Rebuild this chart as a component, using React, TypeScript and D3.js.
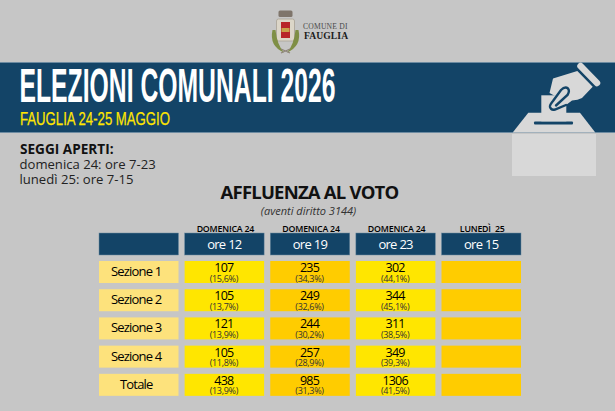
import React from "react";
import * as d3 from "d3";

const sections = ["Sezione 1", "Sezione 2", "Sezione 3", "Sezione 4", "Totale"];
const days = ["DOMENICA 24", "DOMENICA 24", "DOMENICA 24", "LUNEDÌ  25"];
const hours = ["ore 12", "ore 19", "ore 23", "ore 15"];
const ore12 = ["107", "105", "121", "105", "438"];
const ore12Pct = ["(15,6%)", "(13,7%)", "(13,9%)", "(11,8%)", "(13,9%)"];
const ore19 = ["235", "249", "244", "257", "985"];
const ore19Pct = ["(34,3%)", "(32,6%)", "(30,2%)", "(28,9%)", "(31,3%)"];
const ore23 = ["302", "344", "311", "349", "1306"];
const ore23Pct = ["(44,1%)", "(45,1%)", "(38,5%)", "(39,3%)", "(41,5%)"];
const ore15: string[] = ["", "", "", "", ""];
const ore15Pct: string[] = ["", "", "", "", ""];

const values = [ore12, ore19, ore23, ore15];
const pcts = [ore12Pct, ore19Pct, ore23Pct, ore15Pct];
const colFill = ["#ffe600", "#ffcc00", "#ffe600", "#ffcc00"];

const NAVY = "#134467";
const EDGE = "#6d8ba1";
const BG = "#c6c6c6";
const LIGHT = "#d8d8d8";
const sans = "'Open Sans', sans-serif";
const serif = "'Liberation Serif', serif";
const narrow = "'Liberation Sans Narrow', 'Liberation Sans', sans-serif";

const columns = ["label", "0", "1", "2", "3"];
const x = d3.scaleBand<string>().domain(columns).range([99, 521]).paddingInner(0.0715).paddingOuter(0);
const rows = sections;
const y = d3.scaleBand<string>().domain(rows).range([261, 395]).paddingInner(0.25).paddingOuter(0);
const rowH = 22;

export default function App() {
  const bw = x.bandwidth();
  const hTop = 233;
  return (
    <svg width={615} height={411} viewBox="0 0 615 411" style={{ position: "absolute", left: 0, top: 0, display: "block" }}>
      <rect width={615} height={411} fill={BG} />

      {/* crest */}
      <g>
        <rect x={278.5} y={10.5} width={14} height={6.5} rx={1.5} fill="#7f756b" />
        <rect x={276.5} y={19} width={18} height={22} rx={2} fill="#dcd6c8" stroke="#a8a296" strokeWidth={0.8} />
        <rect x={281} y={22} width={9} height={16} fill="#b8262a" />
        <rect x={281.5} y={28} width={8} height={4} fill="#c9a24a" />
        <path d="M272.5 30 Q269 46 284 52.5 Q277 45 275.5 30 Z" fill="#7f8f45" />
        <path d="M298.5 30 Q302 46 287 52.5 Q294 45 295.5 30 Z" fill="#7f8f45" />
        <path d="M281 49 L290 53 M290 49 L281 53" stroke="#8d8378" strokeWidth={1.2} />
        <text x={303} y={29} fontFamily={serif} fontSize={7.6} fill="#4a4a4a" letterSpacing={0.2}>COMUNE DI</text>
        <text x={304} y={38.7} fontFamily={serif} fontSize={9.6} fontWeight={700} fill="#1c1c1c" letterSpacing={0.1}>FAUGLIA</text>
      </g>

      {/* banner */}
      <rect x={0} y={62} width={615} height={70.5} fill={NAVY} />
      <line x1={0} x2={615} y1={62.5} y2={62.5} stroke={EDGE} />
      <line x1={0} x2={615} y1={132.5} y2={132.5} stroke={EDGE} />
      <text x={19.5} y={102} fontFamily={narrow} fontWeight={700} fontSize={48} fill="#ffffff" textLength={316} lengthAdjust="spacingAndGlyphs">ELEZIONI COMUNALI 2026</text>
      <text x={20} y={124.5} fontFamily={narrow} fontSize={18.5} fill="#ffe600" stroke="#ffe600" strokeWidth={0.25} textLength={150} lengthAdjust="spacingAndGlyphs">FAUGLIA 24-25 MAGGIO</text>

      {/* ballot box icon */}
      <g>
        <rect x={512} y={134} width={84} height={42} fill={LIGHT} />
        <path d="M512.7 132.5 L528.3 112.7 L580 112.7 L595.3 132.5 Z" fill={LIGHT} />
        <rect x={534} y={121.5} width={39} height={3} rx={1} fill={NAVY} />
        <rect x={541.3} y={95.3} width={25} height={26} fill={LIGHT} />
        <line x1={580.5} y1={66} x2={597} y2={83} stroke={LIGHT} strokeWidth={6.5} strokeLinecap="round" />
        <path d="M553 78.5 L577.3 71 L592.7 86.7 L582 98 Q578 100 572 100.5 L566 105 L553 110.5 L549.5 106 L555 96 L549.5 93 Z" fill={LIGHT} />
        <path d="M566 105 L555 109.5 Q551 110.5 550 107 Q549.5 105 553 101 L561 90 Q565 86 568 88.5 Q570 91 567.5 95 L556 105.5" fill="none" stroke={NAVY} strokeWidth={2.4} strokeLinecap="round" />
      </g>

      {/* opening hours */}
      <text x={20} y={154} fontFamily={sans} fontWeight={700} fontSize={13.6} fill="#111">SEGGI APERTI:</text>
      <text x={19.5} y={169} fontFamily={sans} fontSize={13.1} fill="#222">domenica 24: ore 7-23</text>
      <text x={19.5} y={184} fontFamily={sans} fontSize={13.1} fill="#222">lunedì 25: ore 7-15</text>

      {/* table title */}
      <text x={309.5} y={199} textAnchor="middle" fontFamily={sans} fontWeight={700} fontSize={18.5} letterSpacing={-0.8} fill="#111">AFFLUENZA AL VOTO</text>
      <text x={308.5} y={215} textAnchor="middle" fontFamily={sans} fontStyle="italic" fontSize={11} fill="#333">(aventi diritto 3144)</text>

      {/* header row */}
      <rect x={x("label")} y={hTop} width={bw} height={22} fill={NAVY} stroke={EDGE} strokeWidth={0.5} />
      {hours.map((h, i) => {
        const cx = x(String(i))! + bw / 2;
        return (
          <g key={i}>
            <text x={cx + 1} y={231.5} textAnchor="middle" fontFamily={sans} fontWeight={600} fontSize={8.8} letterSpacing={-0.2} fill="#000" style={{ whiteSpace: "pre" }}>{days[i]}</text>
            <rect x={x(String(i))} y={hTop} width={bw} height={22} fill={NAVY} stroke={EDGE} strokeWidth={0.5} />
            <text x={cx} y={248.5} textAnchor="middle" fontFamily={sans} fontSize={13} letterSpacing={-0.7} fill="#fff">{h}</text>
          </g>
        );
      })}

      {/* body */}
      {rows.map((r, ri) => {
        const ry = y(r)!;
        return (
          <g key={r}>
            <rect x={x("label")} y={ry} width={bw} height={rowH} fill="#fde27c" />
            <text x={x("label")! + bw / 2 - 2.5} y={ry + 15} textAnchor="middle" fontFamily={sans} fontSize={13} letterSpacing={-0.8} fill="#000">{r}</text>
            {values.map((col, ci) => {
              const cx = x(String(ci))! + bw / 2 - 0.5;
              return (
                <g key={ci}>
                  <rect x={x(String(ci))} y={ry} width={bw} height={rowH} fill={colFill[ci]} />
                  <text x={cx} y={ry + 11} textAnchor="middle" fontFamily={sans} fontSize={12.5} letterSpacing={-0.8} fill="#000">{col[ri]}</text>
                  <text x={cx} y={ry + 20.5} textAnchor="middle" fontFamily={sans} fontSize={9} letterSpacing={-0.3} fill="#333">{pcts[ci][ri]}</text>
                </g>
              );
            })}
          </g>
        );
      })}
    </svg>
  );
}
